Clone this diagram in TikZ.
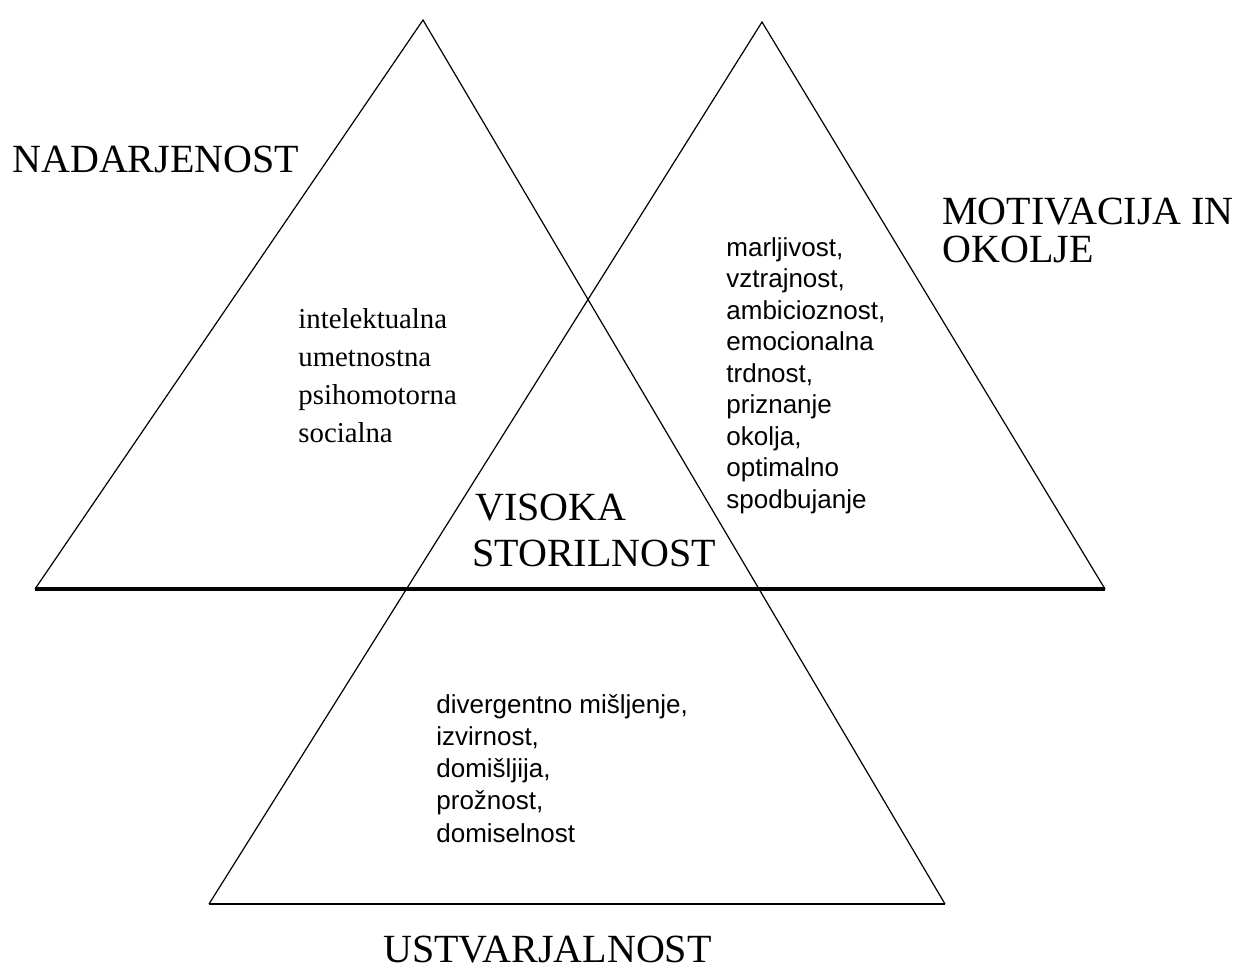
\documentclass[tikz,border=0pt]{standalone}
\usepackage{fontspec}
\setmainfont{Liberation Serif}
\setsansfont{Liberation Sans}

\begin{document}
\begin{tikzpicture}[x=0.5pt, y=-0.5pt,
    edge/.style={line width=0.6pt},
    basis/.style={line width=1.6pt},
    big label/.style={font=\fontsize{20}{20}\selectfont, inner sep=0, anchor=base west},
    serif item/.style={font=\fontsize{14.4}{19}\selectfont, inner sep=0, anchor=base west},
    sans item/.style={font=\sffamily\fontsize{13}{16}\selectfont, inner sep=0, anchor=base west}]
    \useasboundingbox (0,0) rectangle (1236,969);
    % corners of the three triangles
    \coordinate (nadTop) at (423,20);
    \coordinate (nadL) at (35,589);
    \coordinate (motTop) at (762,22);
    \coordinate (motR) at (1105,589);
    \coordinate (ustL) at (209,904);
    \coordinate (ustR) at (945,904);
    \draw[edge] (nadL) -- (nadTop) -- (ustR);
    \draw[edge] (motR) -- (motTop) -- (ustL);
    \draw[basis] (nadL) -- (motR);
    \draw[line width=1.1pt] (ustL) -- (ustR);
    % titles
    \node[big label] (nad) at (12,172) {NADARJENOST};
    \node[big label] (mot1) at (942,224) {MOTIVACIJA IN};
    \node[big label] (mot2) at (942,262) {OKOLJE};
    \node[big label] (vis1) at (475,520) {VISOKA};
    \node[big label] (vis2) at (472,566) {STORILNOST};
    \node[big label] (ust) at (383,962) {USTVARJALNOST};
    % lists
    \foreach \w [count=\i from 0] in {intelektualna, umetnostna, psihomotorna, socialna}
        \node[serif item] (nadItem\i) at (298,328+38*\i) {\w};
    \foreach \w [count=\i from 0] in {{marljivost,}, {vztrajnost,}, {ambicioznost,}, emocionalna, {trdnost,}, priznanje, {okolja,}, optimalno, spodbujanje}
        \node[sans item] (motItem\i) at (726,256+31.5*\i) {\w};
    \foreach \w [count=\i from 0] in {{divergentno mišljenje,}, {izvirnost,}, {domišljija,}, {prožnost,}, domiselnost}
        \node[sans item] (ustItem\i) at (436,713+32.25*\i) {\w};
\end{tikzpicture}
\end{document}
